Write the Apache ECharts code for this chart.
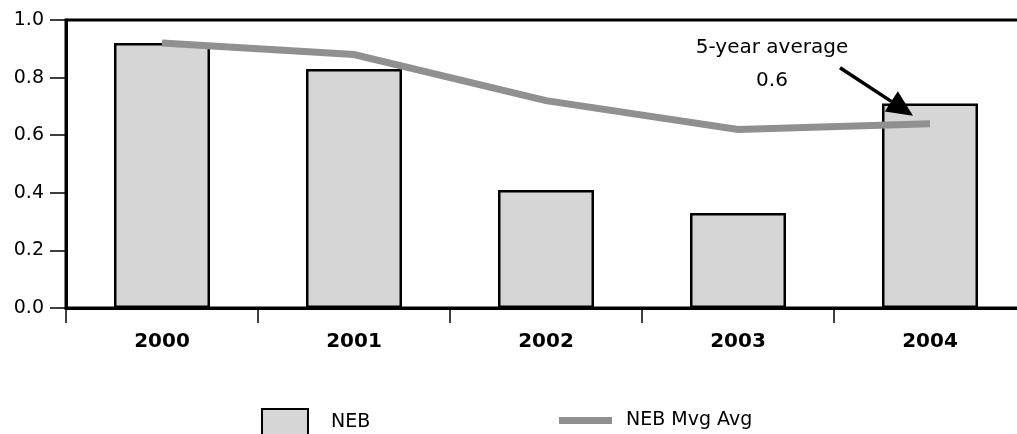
<!DOCTYPE html>
<html>
<head>
<meta charset="utf-8">
<script src="https://cdn.jsdelivr.net/npm/echarts@6/dist/echarts.min.js"></script>
<style>
  html, body { margin: 0; padding: 0; background: #fff; }
  #chart { width: 1017px; height: 434px; }
</style>
</head>
<body>
<div id="chart"></div>
<script>
// Years on the category axis
var years = ['2000', '2001', '2002', '2003', '2004'];
// Annual NEB values (bars)
var nebValues = [0.92, 0.83, 0.41, 0.33, 0.71];
// Moving average of NEB (line)
var nebMovingAvg = [0.92, 0.88, 0.72, 0.62, 0.64];
// Value axis ticks
var yTicks = [0.0, 0.2, 0.4, 0.6, 0.8, 1.0];

var FONT = '"DejaVu Sans", sans-serif';
var BAR_FILL = '#d6d6d6';
var LINE_GREY = '#909090';

// Five-year average of the annual values, shown in the callout
var fiveYearAvg = nebValues.reduce(function (a, b) { return a + b; }, 0) / nebValues.length;

var chart = echarts.init(document.getElementById('chart'));

chart.setOption({
  animation: false,
  backgroundColor: '#fff',
  grid: {
    left: 66, right: -9, top: 20, bottom: 126,
    outerBoundsMode: 'none',
    containLabel: false,
    show: true, borderColor: '#000', borderWidth: 3, backgroundColor: 'transparent'
  },
  xAxis: {
    type: 'category',
    data: years,
    axisLine: { lineStyle: { color: '#000', width: 3 } },
    axisTick: { show: true, length: 15, lineStyle: { color: '#000', width: 1.5 } },
    axisLabel: { color: '#000', fontFamily: FONT, fontWeight: 'bold', fontSize: 20, margin: 24 },
    splitLine: { show: false }
  },
  yAxis: {
    type: 'value',
    min: yTicks[0],
    max: yTicks[yTicks.length - 1],
    interval: yTicks[1] - yTicks[0],
    axisLine: { show: true, lineStyle: { color: '#000', width: 3 } },
    axisTick: { show: true, length: 16, lineStyle: { color: '#000', width: 1.5 } },
    axisLabel: {
      color: '#000', fontFamily: FONT, fontSize: 19, margin: 22,
      formatter: function (v) { return v.toFixed(1); }
    },
    splitLine: { show: false }
  },
  legend: [
    {
      data: [{ name: 'NEB', icon: 'rect' }],
      left: 256, top: 403,
      itemWidth: 46, itemHeight: 26,
      textStyle: { color: '#000', fontFamily: FONT, fontSize: 19, padding: [0, 0, 0, 18] }
    },
    {
      data: [{ name: 'NEB Mvg Avg', icon: 'rect', itemStyle: { color: LINE_GREY, borderWidth: 0 } }],
      left: 554, top: 406,
      itemWidth: 53, itemHeight: 7,
      textStyle: { color: '#000', fontFamily: FONT, fontSize: 19, padding: [0, 0, 0, 9] }
    }
  ],
  series: [
    {
      name: 'NEB',
      type: 'bar',
      data: nebValues,
      barWidth: '50%',
      itemStyle: { color: BAR_FILL, borderColor: '#000', borderWidth: 2.5 },
      z: 2
    },
    {
      name: 'NEB Mvg Avg',
      type: 'line',
      data: nebMovingAvg,
      symbol: 'none',
      lineStyle: { color: LINE_GREY, width: 7, cap: 'butt', join: 'miter' },
      itemStyle: { color: LINE_GREY },
      z: 3
    }
  ]
});

// Callout with arrow pointing at the end of the moving-average line
var end = chart.convertToPixel({ seriesIndex: 1 }, [years.length - 1, nebMovingAvg[nebMovingAvg.length - 1]]);
var tip = [end[0] - 17, end[1] - 8];
var start = [end[0] - 90, end[1] - 56];
var dx = tip[0] - start[0], dy = tip[1] - start[1];
var len = Math.sqrt(dx * dx + dy * dy);
var ux = dx / len, uy = dy / len;
var headLen = 26, headHalf = 12;
var base = [tip[0] - ux * headLen, tip[1] - uy * headLen];
var textX = end[0] - 158;

chart.setOption({
  graphic: [
    {
      type: 'line',
      shape: { x1: start[0], y1: start[1], x2: base[0], y2: base[1] },
      style: { stroke: '#000', lineWidth: 3.5 },
      z: 10
    },
    {
      type: 'polygon',
      shape: { points: [
        tip,
        [base[0] - uy * headHalf, base[1] + ux * headHalf],
        [base[0] + uy * headHalf, base[1] - ux * headHalf]
      ] },
      style: { fill: '#000' },
      z: 10
    },
    {
      type: 'text',
      x: textX, y: end[1] - 76,
      style: { text: '5-year average', fill: '#000', font: '20px ' + FONT, align: 'center', verticalAlign: 'middle' },
      z: 10
    },
    {
      type: 'text',
      x: textX, y: end[1] - 43,
      style: { text: fiveYearAvg.toFixed(1), fill: '#000', font: '20px ' + FONT, align: 'center', verticalAlign: 'middle' },
      z: 10
    }
  ]
});
</script>
</body>
</html>
